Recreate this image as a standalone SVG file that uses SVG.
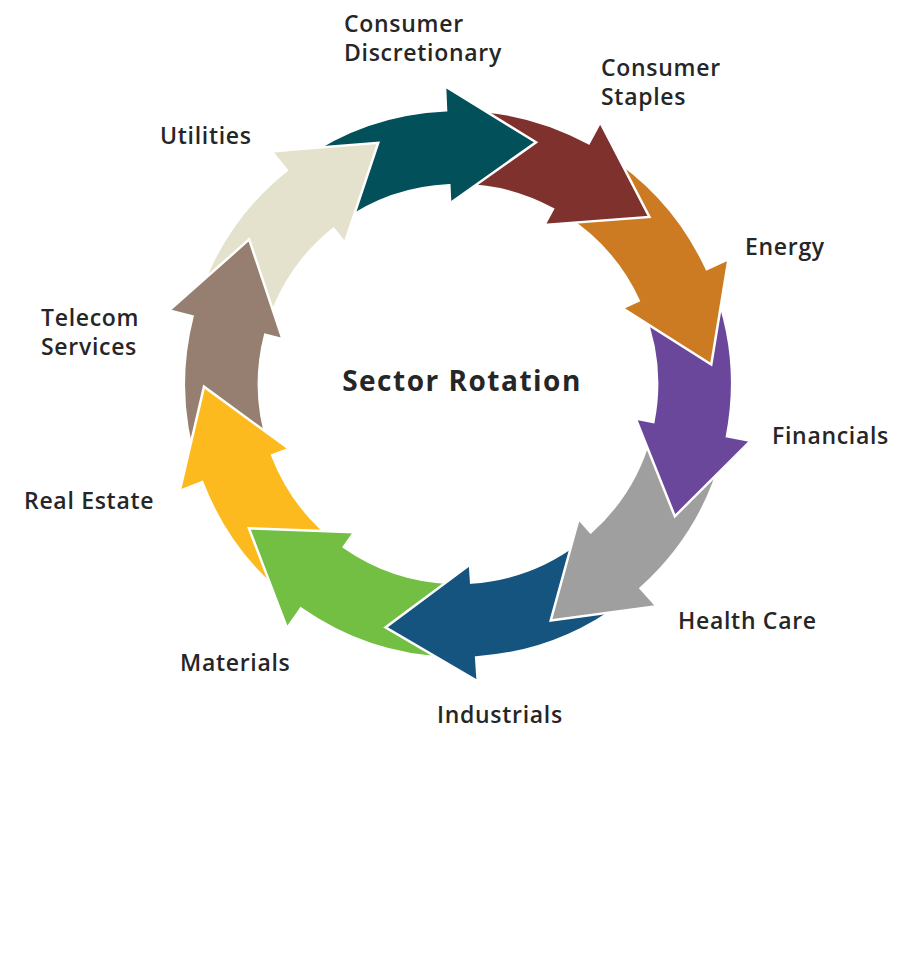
<svg xmlns="http://www.w3.org/2000/svg" xmlns:xlink="http://www.w3.org/1999/xlink" width="916" height="962" viewBox="0 0 916 962">
  <style>
    .arrow { stroke: #ffffff; stroke-width: 2.5; stroke-linejoin: miter; }
    .lbl { font-family: "Open Sans", "Noto Sans", "Liberation Sans", sans-serif; font-size: 23px; font-weight: 600; letter-spacing: 0.7px; fill: #262626; }
    .title { font-family: "Open Sans", "Noto Sans", "Liberation Sans", sans-serif; font-size: 28px; font-weight: 700; letter-spacing: 1.5px; fill: #262626; }
  </style>
  <defs>
    <path id="arr" d="M166.9,-108.4 L229.8,-149.2 A274,274 0 0 1 274,0 L298,0 L238.1,88.5 L181,0 L199,0 A199,199 0 0 0 166.9,-108.4 Z"/>
    <clipPath id="topclip">
      <rect x="288" y="100" width="140" height="158"/>
    </clipPath>
  </defs>
  <rect width="916" height="962" fill="#ffffff"/>

  <g id="utilities">
    <use xlink:href="#arr" href="#arr" class="arrow" fill="#e4e2cc" transform="translate(458 384) rotate(231.3)"/>
    <text class="lbl" x="160" y="144">Utilities</text>
  </g>
  <g id="telecom-services">
    <use xlink:href="#arr" href="#arr" class="arrow" fill="#967f71" transform="translate(458 384) rotate(194.3)"/>
    <text class="lbl" x="41" y="326">Telecom</text>
    <text class="lbl" x="41" y="355">Services</text>
  </g>
  <g id="real-estate">
    <use xlink:href="#arr" href="#arr" class="arrow" fill="#fdba1e" transform="translate(458 384) rotate(159)"/>
    <text class="lbl" x="24" y="509">Real Estate</text>
  </g>
  <g id="materials">
    <use xlink:href="#arr" href="#arr" class="arrow" fill="#72bf44" transform="translate(458 384) rotate(125)"/>
    <text class="lbl" x="180" y="671">Materials</text>
  </g>
  <g id="industrials">
    <use xlink:href="#arr" href="#arr" class="arrow" fill="#165480" transform="translate(458 384) rotate(86.2)"/>
    <text class="lbl" x="437" y="723">Industrials</text>
  </g>
  <g id="health-care">
    <use xlink:href="#arr" href="#arr" class="arrow" fill="#a09fa0" transform="translate(458 384) rotate(48.2)"/>
    <text class="lbl" x="678" y="629">Health Care</text>
  </g>
  <g id="financials">
    <use xlink:href="#arr" href="#arr" class="arrow" fill="#6a479b" transform="translate(458 384) rotate(11)"/>
    <text class="lbl" x="772" y="444">Financials</text>
  </g>
  <g id="energy">
    <use xlink:href="#arr" href="#arr" class="arrow" fill="#cd7b22" transform="translate(458 384) rotate(-24.8)"/>
    <text class="lbl" x="745" y="255">Energy</text>
  </g>
  <g id="consumer-staples">
    <use xlink:href="#arr" href="#arr" class="arrow" fill="#7f322d" transform="translate(458 384) rotate(-61.5)"/>
    <text class="lbl" x="601" y="76">Consumer</text>
    <text class="lbl" x="601" y="105">Staples</text>
  </g>
  <g id="consumer-discretionary">
    <use xlink:href="#arr" href="#arr" class="arrow" fill="#02505a" transform="translate(458 384) rotate(-92.5)"/>
    <text class="lbl" x="344" y="32">Consumer</text>
    <text class="lbl" x="344" y="61">Discretionary</text>
  </g>
  <g id="utilities-head-overlay" clip-path="url(#topclip)">
    <use xlink:href="#arr" href="#arr" class="arrow" fill="#e4e2cc" transform="translate(458 384) rotate(231.3)"/>
  </g>
  <g id="title">
    <text class="title" x="462" y="391" text-anchor="middle">Sector Rotation</text>
  </g>
  <g id="connectors"/>
</svg>
